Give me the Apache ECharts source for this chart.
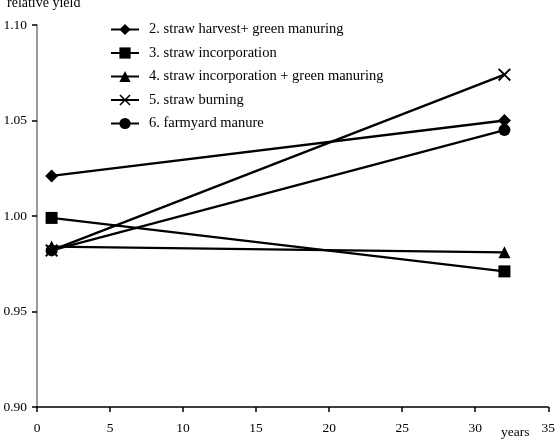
<!DOCTYPE html>
<html lang="en">
    <head>
        <meta charset="utf-8" />
        <title>Relative yield</title>
        <style type="text/css">
            html, body { margin: 0; padding: 0; background: #fff; }
            #chart { width: 558px; height: 448px; }
        </style>
    </head>
    <body>
        <div id="chart"></div>
        <script src="https://cdn.jsdelivr.net/npm/echarts@6.0.0/dist/echarts.min.js"></script>
        <script>
            // years of the two measurements
            const years = [1, 32];

            const seriesNames = [
                "2. straw harvest+ green manuring",
                "3. straw incorporation",
                "4. straw incorporation + green manuring",
                "5. straw burning",
                "6. farmyard manure"
            ];
            const strawHarvestGreen = [1.021, 1.050];
            const strawIncorporation = [0.999, 0.971];
            const strawIncorpGreen = [0.984, 0.981];
            const strawBurning = [0.982, 1.074];
            const farmyardManure = [0.982, 1.045];

            const xTicks = [0, 5, 10, 15, 20, 25, 30, 35];
            const yTicks = [0.90, 0.95, 1.00, 1.05, 1.10];

            const crossPath = 'path://M0,1L1,0L5,4L9,0L10,1L6,5L10,9L9,10L5,6L1,10L0,9L4,5Z';
            const symbols = ['diamond', 'rect', 'triangle', crossPath, 'circle'];
            const symbolSizes = [13, 12, 12, 13, 12];
            const values = [strawHarvestGreen, strawIncorporation, strawIncorpGreen, strawBurning, farmyardManure];

            const serif = '"Liberation Serif", "DejaVu Serif", serif';

            let chart = echarts.init(document.querySelector("#chart"));

            const option = {
                animation: false,
                textStyle: { fontFamily: serif, color: '#000' },
                grid: { left: 37, top: 25, right: 3, bottom: 41, containLabel: false },
                legend: {
                    orient: 'vertical',
                    left: 110,
                    top: 22,
                    padding: 0,
                    itemWidth: 28,
                    itemHeight: 14,
                    itemGap: 8.5,
                    textStyle: {
                        fontFamily: serif, fontSize: 14.5, color: '#000',
                        lineHeight: 14, padding: [0, 0, 0, 5]
                    },
                    data: seriesNames
                },
                xAxis: {
                    type: 'value',
                    min: xTicks[0],
                    max: xTicks[xTicks.length - 1],
                    interval: 5,
                    axisLine: { lineStyle: { color: '#000', width: 1.5 } },
                    axisTick: { show: true, length: 5, lineStyle: { color: '#000', width: 1.5 } },
                    axisLabel: { fontFamily: serif, fontSize: 13.5, color: '#000', margin: 14 },
                    splitLine: { show: false }
                },
                yAxis: {
                    type: 'value',
                    min: yTicks[0],
                    max: yTicks[yTicks.length - 1],
                    interval: 0.05,
                    axisLine: { show: true, lineStyle: { color: '#777', width: 1.5 } },
                    axisTick: { show: true, length: 5, lineStyle: { color: '#000', width: 1.5 } },
                    axisLabel: {
                        fontFamily: serif, fontSize: 13.5, color: '#000', margin: 10,
                        formatter: (v) => v.toFixed(2)
                    },
                    splitLine: { show: false }
                },
                graphic: [
                    {
                        type: 'text', left: 7, top: -4,
                        style: { text: 'relative yield', font: '14px ' + serif, fill: '#000' }
                    },
                    {
                        type: 'text', left: 501, top: 425,
                        style: { text: 'years', font: '13.5px ' + serif, fill: '#000' }
                    }
                ],
                series: seriesNames.map((name, i) => ({
                    name: name,
                    type: 'line',
                    data: years.map((yr, j) => [yr, values[i][j]]),
                    symbol: symbols[i],
                    symbolSize: symbolSizes[i],
                    showSymbol: true,
                    lineStyle: { color: '#000', width: 2.3 },
                    itemStyle: { color: '#000' }
                }))
            };

            chart.setOption(option);
        </script>
    </body>
</html>
